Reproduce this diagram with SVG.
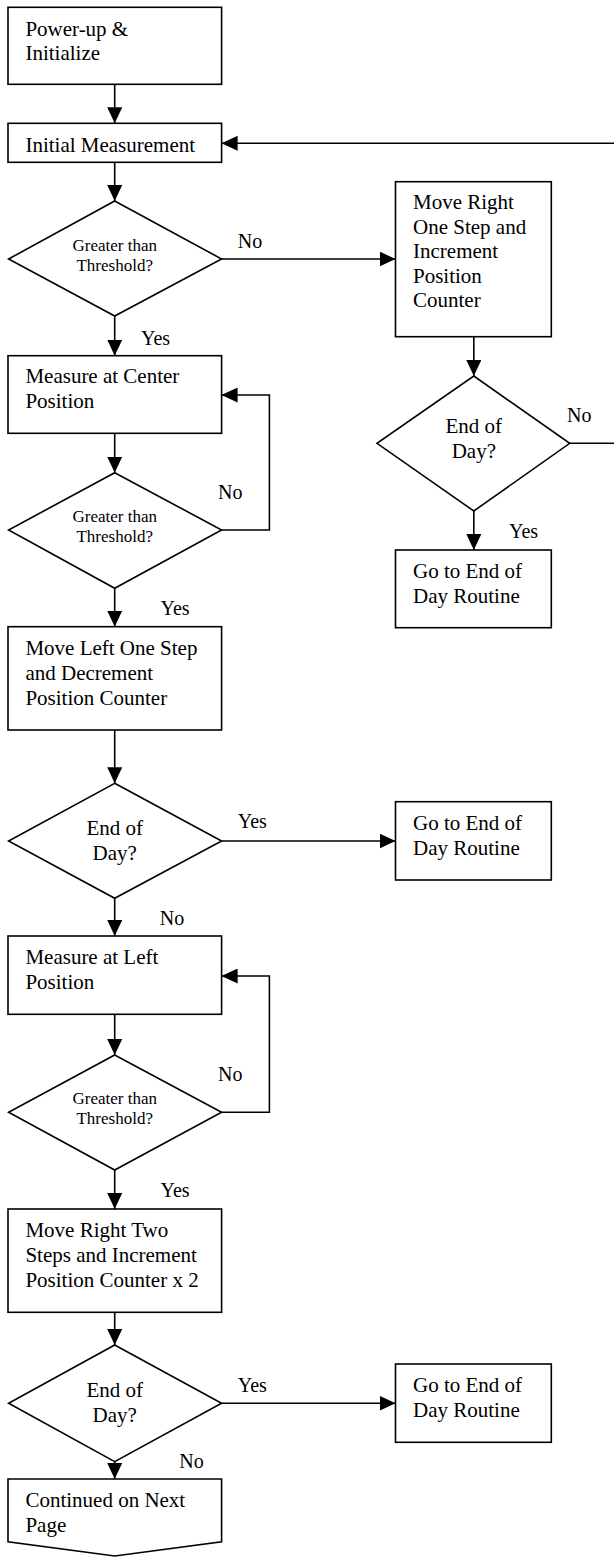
<svg xmlns="http://www.w3.org/2000/svg" width="614" height="1558" viewBox="0 0 614 1558">
<style>
.b{fill:#fff;stroke:#000;stroke-width:1.6}
.t{font-family:"Liberation Serif","Times New Roman",serif;font-size:21px;fill:#000}
.s{font-family:"Liberation Serif","Times New Roman",serif;font-size:17px;fill:#000}
.c{text-anchor:middle}
.l{font-family:"Liberation Serif","Times New Roman",serif;font-size:20px;fill:#000}
.e{fill:none;stroke:#000;stroke-width:1.6}
</style>
<defs>
<marker id="ah" markerUnits="userSpaceOnUse" markerWidth="16" markerHeight="15" refX="16" refY="7.5" orient="auto">
<path d="M0,0 L16,7.5 L0,15 z" fill="#000"/>
</marker>
</defs>
<rect width="614" height="1558" fill="#fff"/>
<g id="connectors">
<line class="e" x1="114.7" y1="84.3" x2="114.7" y2="123.3" marker-end="url(#ah)"/>
<line class="e" x1="614" y1="143.3" x2="221.6" y2="143.3" marker-end="url(#ah)"/>
<line class="e" x1="114.7" y1="162.3" x2="114.7" y2="201" marker-end="url(#ah)"/>
<line class="e" x1="221.6" y1="259" x2="395.5" y2="259" marker-end="url(#ah)"/>
<line class="e" x1="114.7" y1="316" x2="114.7" y2="355.7" marker-end="url(#ah)"/>
<line class="e" x1="473.8" y1="336.7" x2="473.8" y2="376" marker-end="url(#ah)"/>
<line class="e" x1="569.7" y1="443.3" x2="614" y2="443.3"/>
<line class="e" x1="473.8" y1="511" x2="473.8" y2="550" marker-end="url(#ah)"/>
<line class="e" x1="114.7" y1="433.3" x2="114.7" y2="472.7" marker-end="url(#ah)"/>
<polyline class="e" points="221.6,530 269.4,530 269.4,395 221.6,395" marker-end="url(#ah)"/>
<line class="e" x1="114.7" y1="588.3" x2="114.7" y2="626.7" marker-end="url(#ah)"/>
<line class="e" x1="114.7" y1="730" x2="114.7" y2="783.3" marker-end="url(#ah)"/>
<line class="e" x1="221.6" y1="841" x2="395.5" y2="841" marker-end="url(#ah)"/>
<line class="e" x1="114.7" y1="898.3" x2="114.7" y2="936" marker-end="url(#ah)"/>
<line class="e" x1="114.7" y1="1014.3" x2="114.7" y2="1055" marker-end="url(#ah)"/>
<polyline class="e" points="221.6,1112.3 269.4,1112.3 269.4,976 221.6,976" marker-end="url(#ah)"/>
<line class="e" x1="114.7" y1="1170" x2="114.7" y2="1209" marker-end="url(#ah)"/>
<line class="e" x1="114.7" y1="1312.3" x2="114.7" y2="1345" marker-end="url(#ah)"/>
<line class="e" x1="221.6" y1="1403.3" x2="395.5" y2="1403.3" marker-end="url(#ah)"/>
<line class="e" x1="114.7" y1="1461.7" x2="114.7" y2="1479" marker-end="url(#ah)"/>
<text class="l" x="237.7" y="248.3">No</text>
<text class="l" x="141" y="345">Yes</text>
<text class="l" x="567" y="421.7">No</text>
<text class="l" x="509" y="538.3">Yes</text>
<text class="l" x="218" y="499.3">No</text>
<text class="l" x="160.5" y="615">Yes</text>
<text class="l" x="237.7" y="828.3">Yes</text>
<text class="l" x="159.7" y="925">No</text>
<text class="l" x="218" y="1080.7">No</text>
<text class="l" x="160.5" y="1197.3">Yes</text>
<text class="l" x="237.7" y="1391.7">Yes</text>
<text class="l" x="179.3" y="1468.3">No</text>
</g>
<g id="power-up">
<rect class="b" x="8" y="7.3" width="213.6" height="77"/>
<text class="t" x="25.4" y="36">Power-up &amp;</text>
<text class="t" x="25.4" y="60">Initialize</text>
</g>
<g id="initial-measurement">
<rect class="b" x="8" y="123.3" width="213.6" height="39"/>
<text class="t" x="25.4" y="152.3">Initial Measurement</text>
</g>
<g id="decision-1">
<polygon class="b" points="114.7,201 221.6,259 114.7,316 8.6,259"/>
<text class="s c" x="114.7" y="251">Greater than</text>
<text class="s c" x="114.7" y="271">Threshold?</text>
</g>
<g id="move-right-one">
<rect class="b" x="395.5" y="181.7" width="155.8" height="155"/>
<text class="t" x="413" y="209.3">Move Right</text>
<text class="t" x="413" y="233.8">One Step and</text>
<text class="t" x="413" y="258.3">Increment</text>
<text class="t" x="413" y="282.8">Position</text>
<text class="t" x="413" y="307.3">Counter</text>
</g>
<g id="decision-eod-right">
<polygon class="b" points="473.8,376 569.7,443.3 473.8,511 377,443.3"/>
<text class="t c" x="473.8" y="433.3">End of</text>
<text class="t c" x="473.8" y="458.3">Day?</text>
</g>
<g id="eod-1">
<rect class="b" x="395.5" y="550" width="155.8" height="77.7"/>
<text class="t" x="413" y="578.3">Go to End of</text>
<text class="t" x="413" y="603.3">Day Routine</text>
</g>
<g id="measure-center">
<rect class="b" x="8" y="355.7" width="213.6" height="77.6"/>
<text class="t" x="25.4" y="383.3">Measure at Center</text>
<text class="t" x="25.4" y="408.3">Position</text>
</g>
<g id="decision-2">
<polygon class="b" points="114.7,472.7 221.6,530 114.7,588.3 8.6,530"/>
<text class="s c" x="114.7" y="521.7">Greater than</text>
<text class="s c" x="114.7" y="541.7">Threshold?</text>
</g>
<g id="move-left">
<rect class="b" x="8" y="626.7" width="213.6" height="103.3"/>
<text class="t" x="25.4" y="655">Move Left One Step</text>
<text class="t" x="25.4" y="680">and Decrement</text>
<text class="t" x="25.4" y="705">Position Counter</text>
</g>
<g id="decision-eod-3">
<polygon class="b" points="114.7,783.3 221.6,841 114.7,898.3 8.6,841"/>
<text class="t c" x="114.7" y="835">End of</text>
<text class="t c" x="114.7" y="860">Day?</text>
</g>
<g id="eod-2">
<rect class="b" x="395.5" y="801.7" width="155.8" height="78.3"/>
<text class="t" x="413" y="830">Go to End of</text>
<text class="t" x="413" y="855">Day Routine</text>
</g>
<g id="measure-left">
<rect class="b" x="8" y="936" width="213.6" height="78.3"/>
<text class="t" x="25.4" y="963.6">Measure at Left</text>
<text class="t" x="25.4" y="988.6">Position</text>
</g>
<g id="decision-4">
<polygon class="b" points="114.7,1055 221.6,1112.3 114.7,1170 8.6,1112.3"/>
<text class="s c" x="114.7" y="1104">Greater than</text>
<text class="s c" x="114.7" y="1124">Threshold?</text>
</g>
<g id="move-right-two">
<rect class="b" x="8" y="1209" width="213.6" height="103.3"/>
<text class="t" x="25.4" y="1237.3">Move Right Two</text>
<text class="t" x="25.4" y="1262.3">Steps and Increment</text>
<text class="t" x="25.4" y="1286.7">Position Counter x 2</text>
</g>
<g id="decision-eod-5">
<polygon class="b" points="114.7,1345 221.6,1403.3 114.7,1461.7 8.6,1403.3"/>
<text class="t c" x="114.7" y="1397.3">End of</text>
<text class="t c" x="114.7" y="1422.3">Day?</text>
</g>
<g id="eod-3">
<rect class="b" x="395.5" y="1364" width="155.8" height="78.3"/>
<text class="t" x="413" y="1392.3">Go to End of</text>
<text class="t" x="413" y="1417.3">Day Routine</text>
</g>
<g id="continued">
<polygon class="b" points="8,1479 221.6,1479 221.6,1541.7 114.7,1556 8,1541.7"/>
<text class="t" x="25.4" y="1506.7">Continued on Next</text>
<text class="t" x="25.4" y="1531.7">Page</text>
</g>
</svg>
